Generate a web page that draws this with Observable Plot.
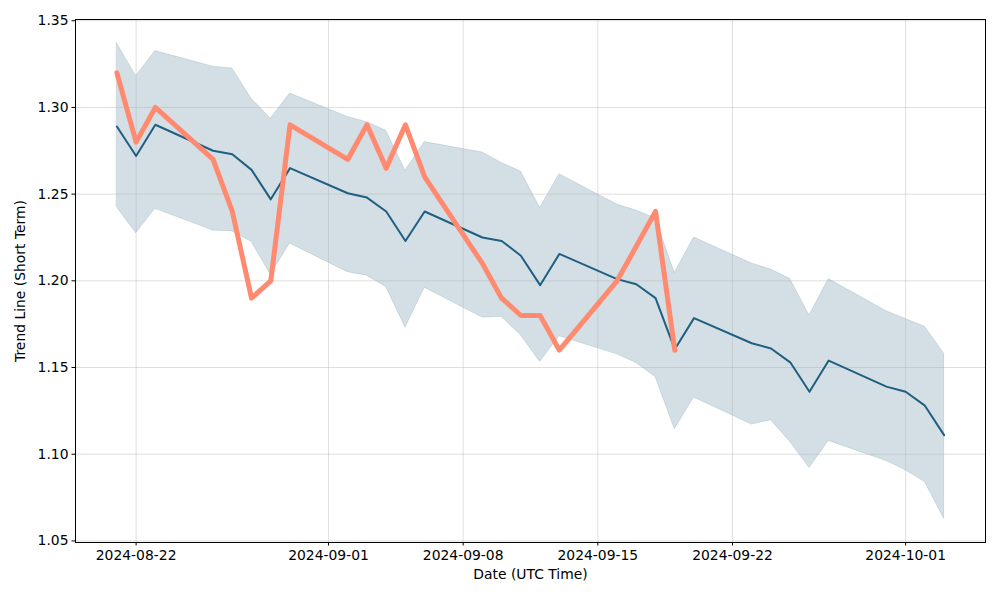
<!DOCTYPE html>
<html>
<head>
<meta charset="utf-8">
<script src="https://cdn.jsdelivr.net/npm/d3@7"></script>
<script src="https://cdn.jsdelivr.net/npm/@observablehq/plot@0.6"></script>
<style>
  html, body { margin: 0; padding: 0; background: #fff; }
  #chart { width: 1000px; height: 600px; }
</style>
</head>
<body>
<div id="chart"></div>
<script>
// ---- Data ----
const dates = [
  "2024-08-21","2024-08-22","2024-08-23",
  "2024-08-26","2024-08-27","2024-08-28","2024-08-29","2024-08-30",
  "2024-09-02","2024-09-03","2024-09-04","2024-09-05","2024-09-06",
  "2024-09-09","2024-09-10","2024-09-11","2024-09-12","2024-09-13",
  "2024-09-16","2024-09-17","2024-09-18","2024-09-19","2024-09-20",
  "2024-09-23","2024-09-24","2024-09-25","2024-09-26","2024-09-27",
  "2024-09-30","2024-10-01","2024-10-02","2024-10-03"
];
const trendMean = [
  1.289, 1.272, 1.290,
  1.275, 1.273, 1.264, 1.247, 1.265,
  1.2505, 1.248, 1.240, 1.223, 1.240,
  1.225, 1.223, 1.2145, 1.1975, 1.2155,
  1.201, 1.198, 1.190, 1.1605, 1.1785,
  1.164, 1.161, 1.153, 1.136, 1.154,
  1.139, 1.136, 1.128, 1.111
];
const trendUpper = [
  1.337, 1.318, 1.3325,
  1.3235, 1.3225, 1.305, 1.2935, 1.308,
  1.2945, 1.2915, 1.2865, 1.2635, 1.280,
  1.274, 1.268, 1.263, 1.242, 1.2615,
  1.244, 1.2405, 1.236, 1.2045, 1.225,
  1.210, 1.2065, 1.201, 1.180, 1.201,
  1.1825, 1.178, 1.1735, 1.158
];
const trendLower = [
  1.2425, 1.2275, 1.2415,
  1.229, 1.2285, 1.2225, 1.2035, 1.2215,
  1.205, 1.203, 1.1965, 1.173, 1.196,
  1.1788, 1.1792, 1.1686, 1.1532, 1.168,
  1.1576, 1.1526, 1.1445, 1.1144, 1.1327,
  1.1171, 1.1196, 1.1071, 1.092, 1.1076,
  1.0961, 1.0907, 1.084, 1.0628
];
const actualDates = [
  "2024-08-21","2024-08-22","2024-08-23",
  "2024-08-26","2024-08-27","2024-08-28","2024-08-29","2024-08-30",
  "2024-09-02","2024-09-03","2024-09-04","2024-09-05","2024-09-06",
  "2024-09-09","2024-09-10","2024-09-11","2024-09-12","2024-09-13",
  "2024-09-16","2024-09-17","2024-09-18","2024-09-19"
];
const actualValues = [
  1.32, 1.28, 1.30,
  1.27, 1.24, 1.19, 1.20, 1.29,
  1.27, 1.29, 1.265, 1.29, 1.26,
  1.21, 1.19, 1.18, 1.18, 1.16,
  1.20, 1.22, 1.24, 1.16
];
const xTickLabels = ["2024-08-22","2024-09-01","2024-09-08","2024-09-15","2024-09-22","2024-10-01"];
const yTickValues = [1.05, 1.10, 1.15, 1.20, 1.25, 1.30, 1.35];
const xLabel = "Date (UTC Time)";
const yLabel = "Trend Line (Short Term)";

// ---- Build tables ----
const parse = d3.utcParse("%Y-%m-%d");
const trend = dates.map((d, i) => ({date: parse(d), mean: trendMean[i], upper: trendUpper[i], lower: trendLower[i]}));
const actual = actualDates.map((d, i) => ({date: parse(d), value: actualValues[i]}));
const xTicks = xTickLabels.map(parse);

// matplotlib-like 5% margins
const x0 = d3.min(trend, d => d.date), x1 = d3.max(trend, d => d.date);
const xPad = (x1 - x0) * 0.05;
const yMin = Math.min(d3.min(trendLower), d3.min(actualValues));
const yMax = Math.max(d3.max(trendUpper), d3.max(actualValues));
const yPad = (yMax - yMin) * 0.05;

const bandColor = "#21607f";

const chart = Plot.plot({
  width: 1000,
  height: 600,
  marginLeft: 75,
  marginRight: 15,
  marginTop: 19,
  marginBottom: 58,
  style: {fontFamily: "'DejaVu Sans', sans-serif", fontSize: "13.9px", color: "#000", background: "#fff"},
  x: {type: "utc", domain: [new Date(+x0 - xPad), new Date(+x1 + xPad)]},
  y: {domain: [yMin - yPad, yMax + yPad]},
  marks: [
    Plot.areaY(trend, {x: "date", y1: "lower", y2: "upper", fill: bandColor, fillOpacity: 0.2, stroke: bandColor, strokeOpacity: 0.15, strokeWidth: 1}),
    Plot.gridX(xTicks, {stroke: "#b0b0b0", strokeOpacity: 0.4, strokeWidth: 1}),
    Plot.gridY(yTickValues, {stroke: "#b0b0b0", strokeOpacity: 0.4, strokeWidth: 1}),
    Plot.lineY(trend, {x: "date", y: "mean", stroke: "#1f5f80", strokeWidth: 2}),
    Plot.lineY(actual, {x: "date", y: "value", stroke: "#ff8a70", strokeWidth: 5}),
    Plot.axisX({ticks: xTicks, tickFormat: d3.utcFormat("%Y-%m-%d"), tickSize: 3.5, tickPadding: 4, label: null}),
    Plot.axisY({ticks: yTickValues, tickFormat: d => d.toFixed(2), tickSize: 3.5, tickPadding: 3.5, label: null}),
    Plot.frame({stroke: "#000", strokeWidth: 1}),
    Plot.text([yLabel], {frameAnchor: "left", dx: -55, rotate: -90, text: d => d, fontSize: 13.9, fill: "#000", textAnchor: "middle"}),
    Plot.text([xLabel], {frameAnchor: "bottom", dy: 36, text: d => d, fontSize: 13.9, fill: "#000"})
  ]
});
document.getElementById("chart").appendChild(chart);
</script>
</body>
</html>
